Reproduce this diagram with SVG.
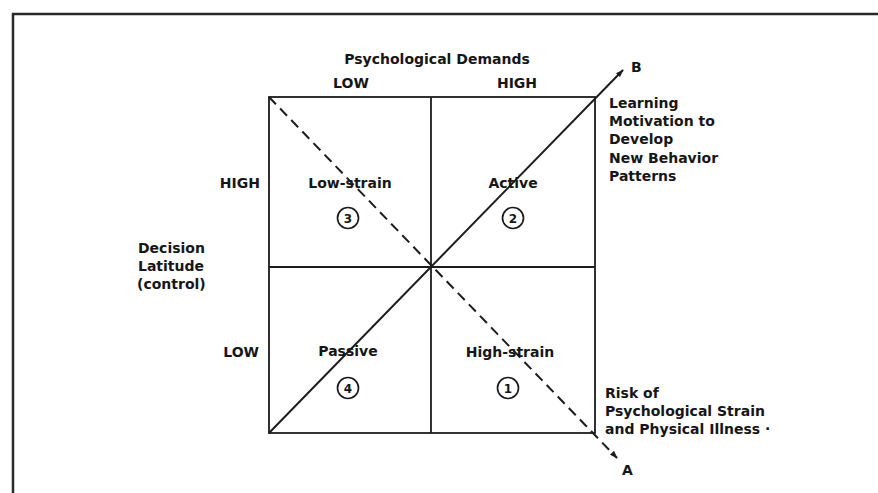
<svg xmlns="http://www.w3.org/2000/svg" width="878" height="493" viewBox="0 0 878 493">
<style>
text{font-family:"DejaVu Sans","Liberation Sans",sans-serif;font-weight:bold;font-size:14px;fill:#161616}
.mid{text-anchor:middle}
.end{text-anchor:end}
.num{font-size:12px;text-anchor:middle}
.edge{fill:none;stroke:#1c1c1c;stroke-width:1.8}
.circ{fill:none;stroke:#1c1c1c;stroke-width:1.7}
.diag{fill:none;stroke:#1c1c1c;stroke-width:2}
</style>
<defs>
<marker id="arr" viewBox="0 0 10 10" refX="9" refY="5" markerWidth="8" markerHeight="8" orient="auto" markerUnits="userSpaceOnUse">
<path d="M0,1.5 L10,5 L0,8.5 Z" fill="#1c1c1c"/>
</marker>
</defs>
<rect width="878" height="493" fill="#fff"/>
<path d="M13,493 V14 H878" fill="none" stroke="#2a2a2a" stroke-width="2.5"/>
<g id="grid">
<rect class="edge" x="269" y="97" width="326" height="336"/>
<line class="edge" x1="431" y1="97" x2="431" y2="433"/>
<line class="edge" x1="269" y1="267" x2="595" y2="267"/>
</g>
<g id="connectors">
<line class="diag" x1="269" y1="433" x2="623" y2="70" marker-end="url(#arr)"/>
<line class="diag" x1="269" y1="97" x2="617" y2="458" stroke-dasharray="10 6" marker-end="url(#arr)"/>
</g>
<g id="axis-top">
<text class="mid" x="437" y="64">Psychological Demands</text>
<text class="mid" x="351" y="88">LOW</text>
<text class="mid" x="517" y="88">HIGH</text>
</g>
<g id="axis-left">
<text x="138" y="253">Decision</text>
<text x="138" y="271">Latitude</text>
<text x="137" y="289">(control)</text>
<text class="end" x="260" y="188">HIGH</text>
<text class="end" x="259" y="357">LOW</text>
</g>
<g id="q3">
<text class="mid" x="350" y="188">Low-strain</text>
<circle class="circ" cx="348" cy="218" r="10.5"/>
<text class="num" x="348" y="222.5">3</text>
</g>
<g id="q2">
<text class="mid" x="513" y="188">Active</text>
<circle class="circ" cx="513" cy="218" r="10.5"/>
<text class="num" x="513" y="222.5">2</text>
</g>
<g id="q4">
<text class="mid" x="348" y="356">Passive</text>
<circle class="circ" cx="348" cy="388" r="10.5"/>
<text class="num" x="348" y="392.5">4</text>
</g>
<g id="q1">
<text class="mid" x="510" y="357">High-strain</text>
<circle class="circ" cx="508" cy="388" r="10.5"/>
<text class="num" x="508" y="392.5">1</text>
</g>
<g id="B">
<text x="631" y="72">B</text>
<text x="609" y="108">Learning</text>
<text x="609" y="126">Motivation to</text>
<text x="609" y="144">Develop</text>
<text x="609" y="163">New Behavior</text>
<text x="609" y="181">Patterns</text>
</g>
<g id="A">
<text x="605" y="398">Risk of</text>
<text x="605" y="416">Psychological Strain</text>
<text x="605" y="434">and Physical Illness ·</text>
<text x="622" y="475">A</text>
</g>
</svg>
